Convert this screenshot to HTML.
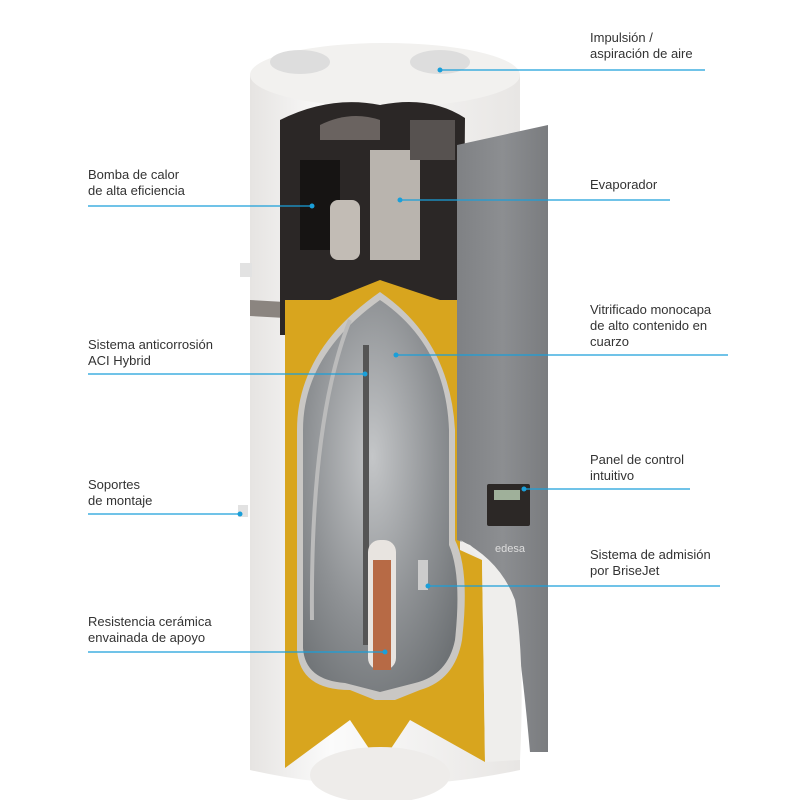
<!DOCTYPE html>
<html><head><meta charset="utf-8"><style>
body{margin:0;background:#fff;width:800px;height:800px;overflow:hidden;font-family:"Liberation Sans",sans-serif}
.t{position:absolute;font-size:13px;line-height:16px;color:#333}
</style></head><body>
<svg width="800" height="800" style="position:absolute;left:0;top:0">
<defs>
<linearGradient id="body" x1="0" x2="1"><stop offset="0" stop-color="#e6e4e2"/><stop offset=".3" stop-color="#fbfbfb"/><stop offset="1" stop-color="#e8e6e4"/></linearGradient>
<radialGradient id="tank" cx=".45" cy=".4" r=".7"><stop offset="0" stop-color="#c4c6c8"/><stop offset=".6" stop-color="#8e9194"/><stop offset="1" stop-color="#6e7275"/></radialGradient>
<linearGradient id="panel" x1="0" x2="1"><stop offset="0" stop-color="#7f8184"/><stop offset=".5" stop-color="#8c8e91"/><stop offset="1" stop-color="#7a7c7f"/></linearGradient>
</defs>
<!-- body -->
<path d="M250 75 L250 770 Q380 800 520 770 L520 75 Z" fill="url(#body)"/>
<ellipse cx="385" cy="75" rx="135" ry="32" fill="#f2f1ef"/>
<ellipse cx="300" cy="62" rx="30" ry="12" fill="#ddd"/>
<ellipse cx="440" cy="62" rx="30" ry="12" fill="#ddd"/>
<rect x="240" y="263" width="12" height="14" fill="#e2e2e2"/>
<rect x="238" y="505" width="10" height="12" fill="#e2e2e2"/>
<!-- brown band -->
<path d="M250 300 L285 302 L285 318 L250 316 Z" fill="#8b8580"/>
<!-- dark compartment -->
<path d="M280 120 Q330 95 380 105 Q430 95 465 118 L463 335 L280 335 Z" fill="#2b2726"/>
<rect x="300" y="160" width="40" height="90" fill="#161413"/>
<rect x="370" y="150" width="50" height="110" fill="#b9b4ae"/>
<rect x="410" y="120" width="45" height="40" fill="#575250"/>
<path d="M320 125 Q350 110 380 120 L380 140 L320 140Z" fill="#6a6360"/>
<rect x="330" y="200" width="30" height="60" rx="8" fill="#c2bcb5"/>
<!-- yellow insulation -->
<path d="M285 300 L330 300 L380 280 L440 300 L460 300 L460 550 L482 560 L485 762 L410 720 L380 765 L350 720 L285 768 Z" fill="#d8a51e"/>
<!-- tank -->
<path d="M297 430 Q297 350 380 292 Q450 340 455 430 L455 540 Q470 570 462 640 Q455 680 420 690 L395 700 L375 700 L350 690 Q300 690 297 650 Z" fill="#c9c7c4"/>
<path d="M303 430 Q303 355 380 300 Q446 345 449 430 L449 545 Q462 575 455 640 Q448 675 415 683 L380 692 L345 683 Q305 680 303 648 Z" fill="url(#tank)"/>
<rect x="363" y="345" width="6" height="300" fill="#555"/>
<path d="M350 320 Q310 420 312 620" stroke="#bbb" stroke-width="4" fill="none"/>
<rect x="368" y="540" width="28" height="130" rx="12" fill="#e8e4e0"/>
<rect x="373" y="560" width="18" height="110" fill="#b76a45"/>
<rect x="418" y="560" width="10" height="30" fill="#ccc"/>
<!-- bottom -->
<ellipse cx="380" cy="775" rx="70" ry="28" fill="#eeecea"/>
<!-- gray panel -->
<path d="M457 145 L548 125 L548 752 L530 752 Q520 640 510 600 Q490 560 470 545 L457 540 Z" fill="url(#panel)"/>
<path d="M460 540 Q500 560 515 600 Q525 660 520 760 L485 762 L482 560 Z" fill="#efeeec"/>
<rect x="487" y="484" width="43" height="42" rx="2" fill="#2c2826"/>
<rect x="494" y="490" width="26" height="10" fill="#9fb09a"/>
<text x="495" y="552" font-size="11" fill="#ddd" font-family="Liberation Sans">edesa</text>
<!-- connectors -->
<g stroke="#1a9fd9" stroke-width="1.2">
<line x1="440" y1="70" x2="705" y2="70"/>
<line x1="88" y1="206" x2="312" y2="206"/>
<line x1="400" y1="200" x2="670" y2="200"/>
<line x1="396" y1="355" x2="728" y2="355"/>
<line x1="88" y1="374" x2="365" y2="374"/>
<line x1="524" y1="489" x2="690" y2="489"/>
<line x1="88" y1="514" x2="240" y2="514"/>
<line x1="428" y1="586" x2="720" y2="586"/>
<line x1="88" y1="652" x2="385" y2="652"/>
</g>
<g fill="#1a9fd9">
<circle cx="440" cy="70" r="2.5"/><circle cx="312" cy="206" r="2.5"/><circle cx="400" cy="200" r="2.5"/><circle cx="396" cy="355" r="2.5"/><circle cx="365" cy="374" r="2.5"/><circle cx="524" cy="489" r="2.5"/><circle cx="240" cy="514" r="2.5"/><circle cx="428" cy="586" r="2.5"/><circle cx="385" cy="652" r="2.5"/>
</g>
</svg>
<div class="t" style="left:590px;top:30px">Impulsión /<br>aspiración de aire</div>
<div class="t" style="left:88px;top:167px">Bomba de calor<br>de alta eficiencia</div>
<div class="t" style="left:590px;top:177px">Evaporador</div>
<div class="t" style="left:590px;top:302px">Vitrificado monocapa<br>de alto contenido en<br>cuarzo</div>
<div class="t" style="left:88px;top:337px">Sistema anticorrosión<br>ACI Hybrid</div>
<div class="t" style="left:590px;top:452px">Panel de control<br>intuitivo</div>
<div class="t" style="left:88px;top:477px">Soportes<br>de montaje</div>
<div class="t" style="left:590px;top:547px">Sistema de admisión<br>por BriseJet</div>
<div class="t" style="left:88px;top:614px">Resistencia cerámica<br>envainada de apoyo</div>
</body></html>
